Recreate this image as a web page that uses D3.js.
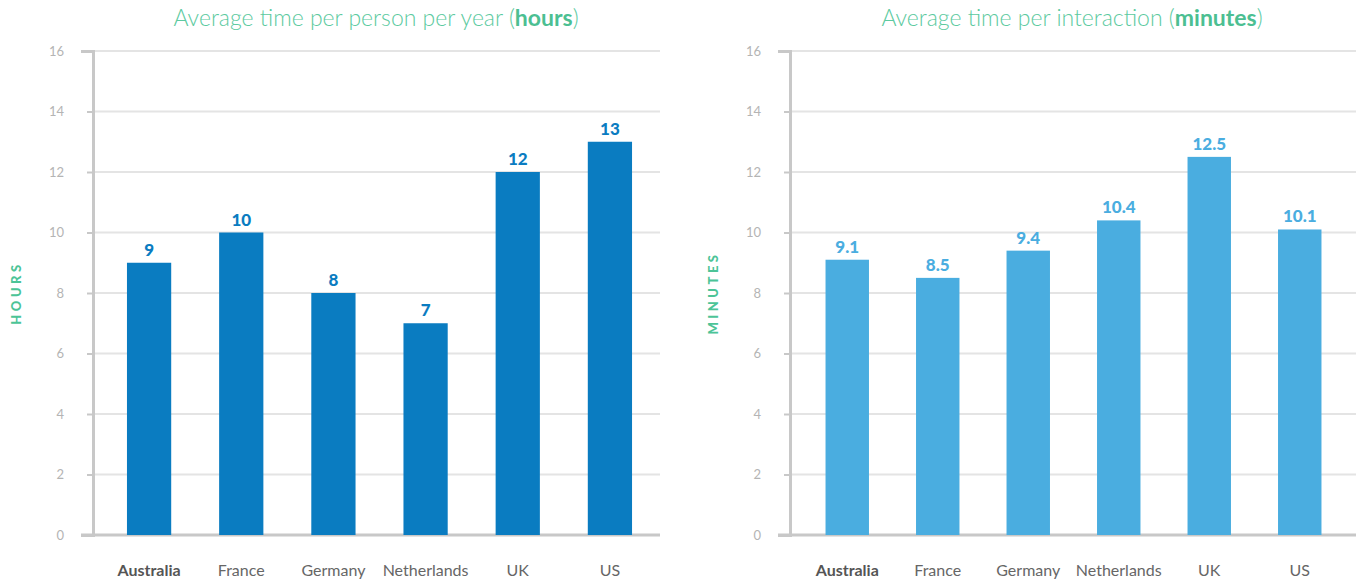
<!DOCTYPE html>
<html lang="en">
<head>
<meta charset="utf-8">
<title>Average time per person</title>
<script src="https://d3js.org/d3.v7.min.js"></script>
<style>
  body { margin: 0; background: #fff; font-family: Lato, "Open Sans", sans-serif; }
  .tick text { fill: #b4b4b4; font-size: 13px; }
</style>
</head>
<body>
<script>
var width = 1359, height = 583;

var countries = ["Australia", "France", "Germany", "Netherlands", "UK", "US"];
var hours = [9, 10, 8, 7, 12, 13];
var minutes = [9.1, 8.5, 9.4, 10.4, 12.5, 10.1];
var yTicks = [0, 2, 4, 6, 8, 10, 12, 14, 16];

var svg = d3.select("body").append("svg")
    .attr("width", width)
    .attr("height", height);

function drawPanel(opt) {
  var g = svg.append("g");

  var y = d3.scaleLinear().domain([0, 16]).range([535, 51]);
  var x = d3.scaleBand().domain(countries)
      .range([opt.bandStart, opt.bandEnd])
      .paddingInner(0.52).paddingOuter(0.26);

  // gridlines
  g.selectAll(".grid").data(yTicks.slice(1)).enter().append("line")
      .attr("x1", opt.axisX + 2).attr("x2", opt.gridEnd)
      .attr("y1", function(d) { return y(d); })
      .attr("y2", function(d) { return y(d); })
      .style("stroke", "#e4e4e4").style("stroke-width", 2);

  // baseline
  g.append("line")
      .attr("x1", opt.axisX - 12).attr("x2", opt.gridEnd)
      .attr("y1", y(0)).attr("y2", y(0))
      .style("stroke", "#c8c8c8").style("stroke-width", 3);

  // bars
  g.selectAll(".bar").data(opt.values).enter().append("rect")
      .attr("x", function(d, i) { return x(countries[i]); })
      .attr("width", x.bandwidth())
      .attr("y", function(d) { return y(d); })
      .attr("height", function(d) { return y(0) - y(d); })
      .style("fill", opt.color);

  // value labels
  g.selectAll(".val").data(opt.values).enter().append("text")
      .attr("x", function(d, i) { return x(countries[i]) + x.bandwidth() / 2; })
      .attr("y", function(d) { return y(d) - 7; })
      .attr("text-anchor", "middle")
      .style("font-size", "17px").style("font-weight", 900)
      .style("fill", opt.color)
      .text(function(d) { return d; });

  // y axis
  var axis = g.append("g")
      .attr("transform", "translate(" + opt.axisX + ",0)")
      .call(d3.axisLeft(y).tickValues(yTicks).tickSizeInner(6).tickSizeOuter(12).tickPadding(23));
  axis.select(".domain").style("stroke", "#c8c8c8").style("stroke-width", 3);
  axis.selectAll(".tick line").style("stroke", "#c8c8c8").style("stroke-width", 2);
  axis.selectAll(".tick text").style("font-family", "Lato, sans-serif");

  // x labels
  g.selectAll(".xl").data(countries).enter().append("text")
      .attr("x", function(d) { return x(d) + x.bandwidth() / 2; })
      .attr("y", 576)
      .attr("text-anchor", "middle")
      .style("font-size", "16px")
      .style("font-weight", function(d, i) { return i === 0 ? "bold" : "normal"; })
      .style("fill", function(d, i) { return i === 0 ? "#555" : "#666"; })
      .text(function(d) { return d; });

  // axis title
  g.append("text")
      .attr("transform", "translate(" + opt.labelX + ",293) rotate(-90)")
      .attr("text-anchor", "middle")
      .style("font-size", "13px").style("font-weight", 900)
      .style("letter-spacing", "3.5px")
      .style("fill", "#4cc497")
      .text(opt.axisLabel);

  // chart title
  var t = g.append("text")
      .attr("x", opt.titleX).attr("y", 26)
      .attr("text-anchor", "middle")
      .style("font-size", "23px")
      .style("font-weight", 300)
      .style("fill", "#5ccaa0");
  t.append("tspan").text(opt.title + " (");
  t.append("tspan").style("font-weight", "bold").style("fill", "#4cbf92").text(opt.unit);
  t.append("tspan").text(")");
}

drawPanel({
  values: hours, color: "#0a7cc1",
  axisX: 93, bandStart: 103, bandEnd: 656, gridEnd: 660,
  labelX: 21, axisLabel: "HOURS",
  titleX: 376, title: "Average time per person per year", unit: "hours"
});

drawPanel({
  values: minutes, color: "#4aade0",
  axisX: 790, bandStart: 802, bandEnd: 1345, gridEnd: 1356,
  labelX: 718, axisLabel: "MINUTES",
  titleX: 1072, title: "Average time per interaction", unit: "minutes"
});
</script>
</body>
</html>
